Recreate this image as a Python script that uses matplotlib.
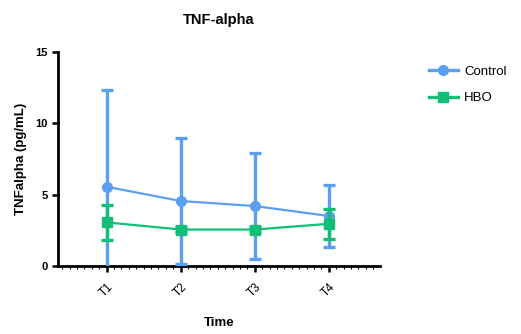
import matplotlib.pyplot as plt
from matplotlib.lines import Line2D
from matplotlib.ticker import MultipleLocator

plt.rcParams['font.family'] = ['Liberation Sans', 'DejaVu Sans']

timepoints = ['T1', 'T2', 'T3', 'T4']
control_mean = [5.55, 4.55, 4.2, 3.5]
control_err = [6.8, 4.45, 3.75, 2.2]
hbo_mean = [3.05, 2.55, 2.55, 2.95]
hbo_err = [1.25, 0.2, 0.2, 1.05]

blue = '#5b9ff0'
green = '#10be78'

fig = plt.figure(figsize=(5.21, 3.34), dpi=100)
ax = fig.add_axes([0.111, 0.204, 0.618, 0.640])

x = list(range(len(timepoints)))
ax.errorbar(x, control_mean, yerr=control_err, color=blue, marker='o', ms=7,
            lw=1.6, elinewidth=2.4, capsize=4, capthick=2.4, zorder=3)
ax.errorbar(x, hbo_mean, yerr=hbo_err, color=green, marker='s', ms=7,
            lw=1.6, elinewidth=2.4, capsize=4, capthick=2.4, zorder=4)

ax.set_xlim(-0.66, 3.69)
ax.set_ylim(0, 15)
ax.set_yticks([0, 5, 10, 15])
ax.set_xticks(x)
ax.set_xticklabels(timepoints, rotation=45, ha='right', rotation_mode='anchor',
                   fontsize=8.5)
ax.xaxis.set_minor_locator(MultipleLocator(0.1))
ax.tick_params(axis='x', which='minor', length=2, width=0.8, direction='out')
ax.tick_params(axis='both', which='major', length=4, width=1.8, labelsize=8)
ax.tick_params(axis='x', which='major', pad=7, labelsize=8.5)
for lab in ax.get_yticklabels():
    lab.set_fontweight('bold')

for side in ['top', 'right']:
    ax.spines[side].set_visible(False)
for side in ['left', 'bottom']:
    ax.spines[side].set_linewidth(2)

ax.set_xlabel('Time', fontweight='bold', fontsize=9.5, labelpad=13)
ax.set_ylabel('TNFalpha (pg/mL)', fontweight='bold', fontsize=9.5, labelpad=6)
ax.set_title('TNF-alpha', fontweight='bold', fontsize=10.5, pad=20)

handles = [
    Line2D([], [], color=blue, marker='o', ms=7, lw=2.4),
    Line2D([], [], color=green, marker='s', ms=7, lw=2.4),
]
fig.legend(handles, ['Control', 'HBO'], loc='upper left',
           bbox_to_anchor=(0.80, 0.84), frameon=False, fontsize=9.5,
           handlelength=2.2, handletextpad=0.5, labelspacing=1.1)

fig.savefig('out.png', dpi=100)
